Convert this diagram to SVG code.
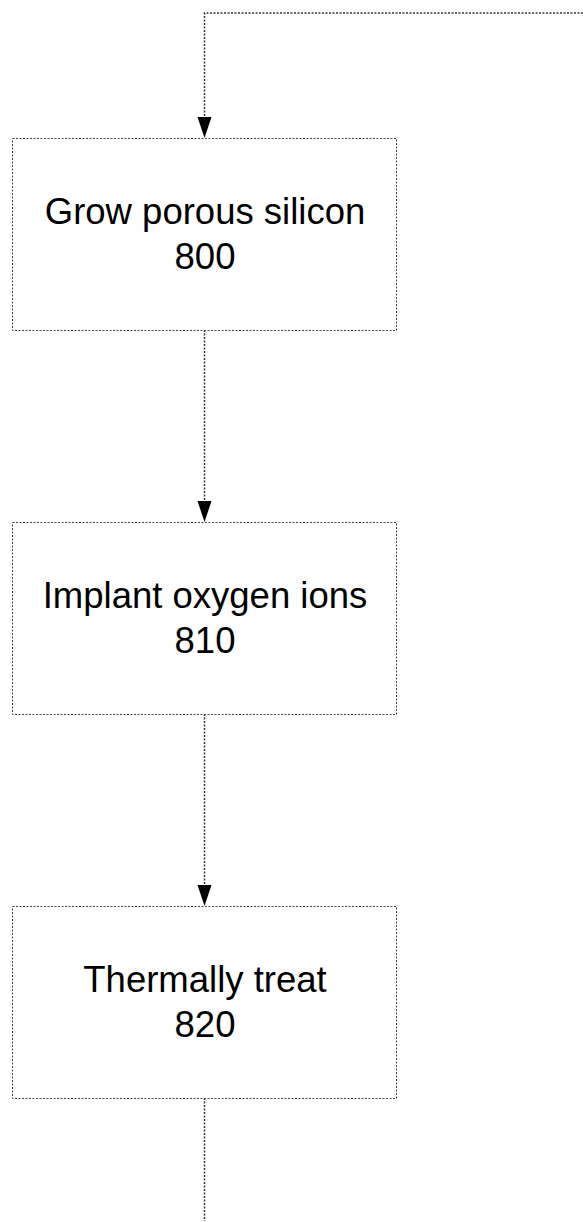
<svg xmlns="http://www.w3.org/2000/svg" width="583" height="1222" viewBox="0 0 583 1222">
  <style>
    .box { fill: #ffffff; stroke: #444444; stroke-width: 1; stroke-dasharray: 2 1.5; }
    .link { fill: none; stroke: #333333; stroke-width: 1.5; stroke-dasharray: 2 1.5; }
    .label { font-family: "Liberation Sans", Arial, sans-serif; font-size: 36.5px; fill: #000000; text-anchor: middle; }
  </style>
  <rect width="583" height="1222" fill="#ffffff"/>

  <g id="connectors">
    <!-- loop-back entry into the first step -->
    <path class="link" d="M583,13 L204.5,13 L204.5,117"/>
    <path d="M197.5,117 L211.5,117 L204.5,138 Z" fill="#000000"/>
    <!-- step 800 to step 810 -->
    <path class="link" d="M204.5,330 L204.5,501"/>
    <path d="M197.5,501 L211.5,501 L204.5,522 Z" fill="#000000"/>
    <!-- step 810 to step 820 -->
    <path class="link" d="M204.5,714 L204.5,885"/>
    <path d="M197.5,885 L211.5,885 L204.5,906 Z" fill="#000000"/>
    <!-- exit from step 820 -->
    <path class="link" d="M204.5,1098 L204.5,1221"/>
  </g>

  <g id="step-800">
    <rect class="box" x="12.5" y="138.5" width="384" height="192"/>
    <text class="label" x="205" y="224">Grow porous silicon</text>
    <text class="label" x="205" y="269">800</text>
  </g>

  <g id="step-810">
    <rect class="box" x="12.5" y="522.5" width="384" height="192"/>
    <text class="label" x="205" y="608">Implant oxygen ions</text>
    <text class="label" x="205" y="653">810</text>
  </g>

  <g id="step-820">
    <rect class="box" x="12.5" y="906.5" width="384" height="192"/>
    <text class="label" x="205" y="992">Thermally treat</text>
    <text class="label" x="205" y="1037">820</text>
  </g>
</svg>
